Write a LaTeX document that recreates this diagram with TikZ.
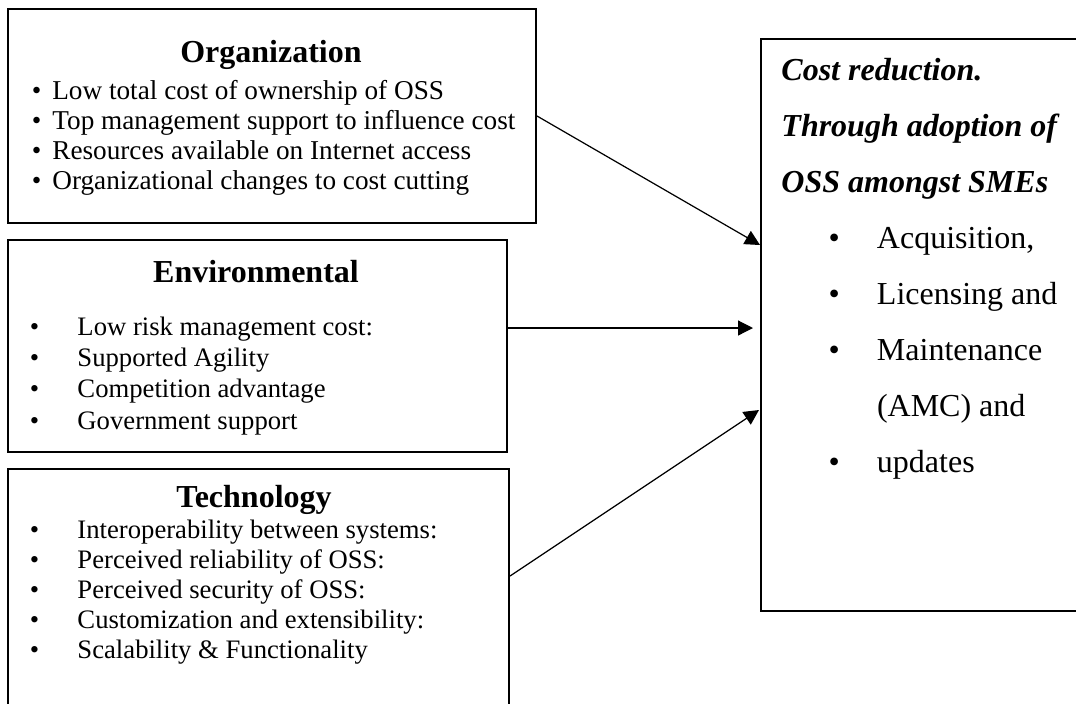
\documentclass[tikz,border=0pt]{standalone}
\usepackage{fontspec}
\setmainfont{Liberation Serif}
\usetikzlibrary{arrows.meta,positioning}

\begin{document}
\begin{tikzpicture}[x=0.45pt,y=-0.45pt]
\tikzset{panel/.style={shape=rectangle,draw,line width=0.9pt,anchor=north west,inner sep=0pt}}
\tikzset{heading/.style={anchor=base,inner sep=0pt,font=\fontsize{14.4}{17}\selectfont\bfseries}}
\tikzset{item/.style={anchor=base west,inner sep=0pt,font=\fontsize{12}{14}\selectfont}}
\tikzset{goal/.style={anchor=base west,inner sep=0pt,font=\fontsize{14.4}{17}\selectfont}}
\tikzset{link/.style={line width=0.55pt,-{Triangle[length=6.75pt,width=6.75pt]}}}
\def\tight#1{\makebox[9.2pt][l]{\textbullet}#1}
\def\wide#1{\makebox[21.4pt][l]{\textbullet}#1}
\def\goalbl#1{\makebox[21.8pt][l]{\textbullet}#1}
\def\orggap{13.5pt}
\def\envgap{14.1pt}
\def\techgap{13.5pt}
\def\goalgap{25.2pt}
\clip (0,0) rectangle (1076,703);
%
\node[panel,minimum width=237.6pt,minimum height=96.3pt] (org) at (7,8) {};
\node[heading] (orgtitle) at (271,62) {Organization};
\node[item,font=\fontsize{12.25}{14}\selectfont] (org1) at (31.5,99) {\tight{Low total cost of ownership of OSS}};
\node[item,font=\fontsize{12.25}{14}\selectfont,below=\orggap of org1.base west,anchor=base west] (org2) {\tight{Top management support to influence cost}};
\node[item,font=\fontsize{12.25}{14}\selectfont,below=\orggap of org2.base west,anchor=base west] (org3) {\tight{Resources available on Internet access}};
\node[item,font=\fontsize{12.25}{14}\selectfont,below=\orggap of org3.base west,anchor=base west] (org4) {\tight{Organizational changes to cost cutting}};
%
\node[panel,minimum width=224.55pt,minimum height=95.4pt] (env) at (7,239) {};
\node[heading] (envtitle) at (256,282) {Environmental};
\node[item] (env1) at (29.5,335) {\wide{Low risk management cost:}};
\node[item,below=\envgap of env1.base west,anchor=base west] (env2) {\wide{Supported Agility}};
\node[item,below=\envgap of env2.base west,anchor=base west] (env3) {\wide{Competition advantage}};
\node[item,below=\envgap of env3.base west,anchor=base west] (env4) {\wide{Government support}};
%
\node[panel,minimum width=225.45pt,minimum height=109.8pt] (tech) at (7,468) {};
\node[heading] (techtitle) at (254,507) {Technology};
\node[item] (tech1) at (29.5,538) {\wide{Interoperability between systems:}};
\node[item,below=\techgap of tech1.base west,anchor=base west] (tech2) {\wide{Perceived reliability of OSS:}};
\node[item,below=\techgap of tech2.base west,anchor=base west] (tech3) {\wide{Perceived security of OSS:}};
\node[item,below=\techgap of tech3.base west,anchor=base west] (tech4) {\wide{Customization and extensibility:}};
\node[item,below=\techgap of tech4.base west,anchor=base west] (tech5) {\wide{Scalability \& Functionality}};
%
\node[panel,minimum width=144.9pt,minimum height=257.4pt] (cost) at (760,38) {};
\node[goal,font=\fontsize{14.4}{17}\selectfont\bfseries\itshape] (cost1) at (781,80) {Cost reduction.};
\node[goal,font=\fontsize{14.4}{17}\selectfont\bfseries\itshape,below=\goalgap of cost1.base west,anchor=base west] (cost2) {Through adoption of};
\node[goal,font=\fontsize{14.4}{17}\selectfont\bfseries\itshape,below=\goalgap of cost2.base west,anchor=base west] (cost3) {OSS amongst SMEs};
\node[goal,below=\goalgap of cost3.base west,anchor=base west,xshift=21.2pt] (goal1) {\goalbl{Acquisition,}};
\node[goal,below=\goalgap of goal1.base west,anchor=base west] (goal2) {\goalbl{Licensing and}};
\node[goal,below=\goalgap of goal2.base west,anchor=base west] (goal3) {\goalbl{Maintenance}};
\node[goal,below=\goalgap of goal3.base west,anchor=base west,xshift=21.8pt] (goal4) {(AMC) and};
\node[goal,below=\goalgap of goal4.base west,anchor=base west,xshift=-21.8pt] (goal5) {\goalbl{updates}};
%
\coordinate (tip1) at (760,245);
\coordinate (tip2) at (753,328);
\coordinate (tip3) at (759,410);
\draw[link] (org.east) -- (tip1);
\draw[link] (env.east |- tip2) -- (tip2);
\draw[link] ([yshift=6.75pt]tech.east) -- (tip3);
\end{tikzpicture}
\end{document}
